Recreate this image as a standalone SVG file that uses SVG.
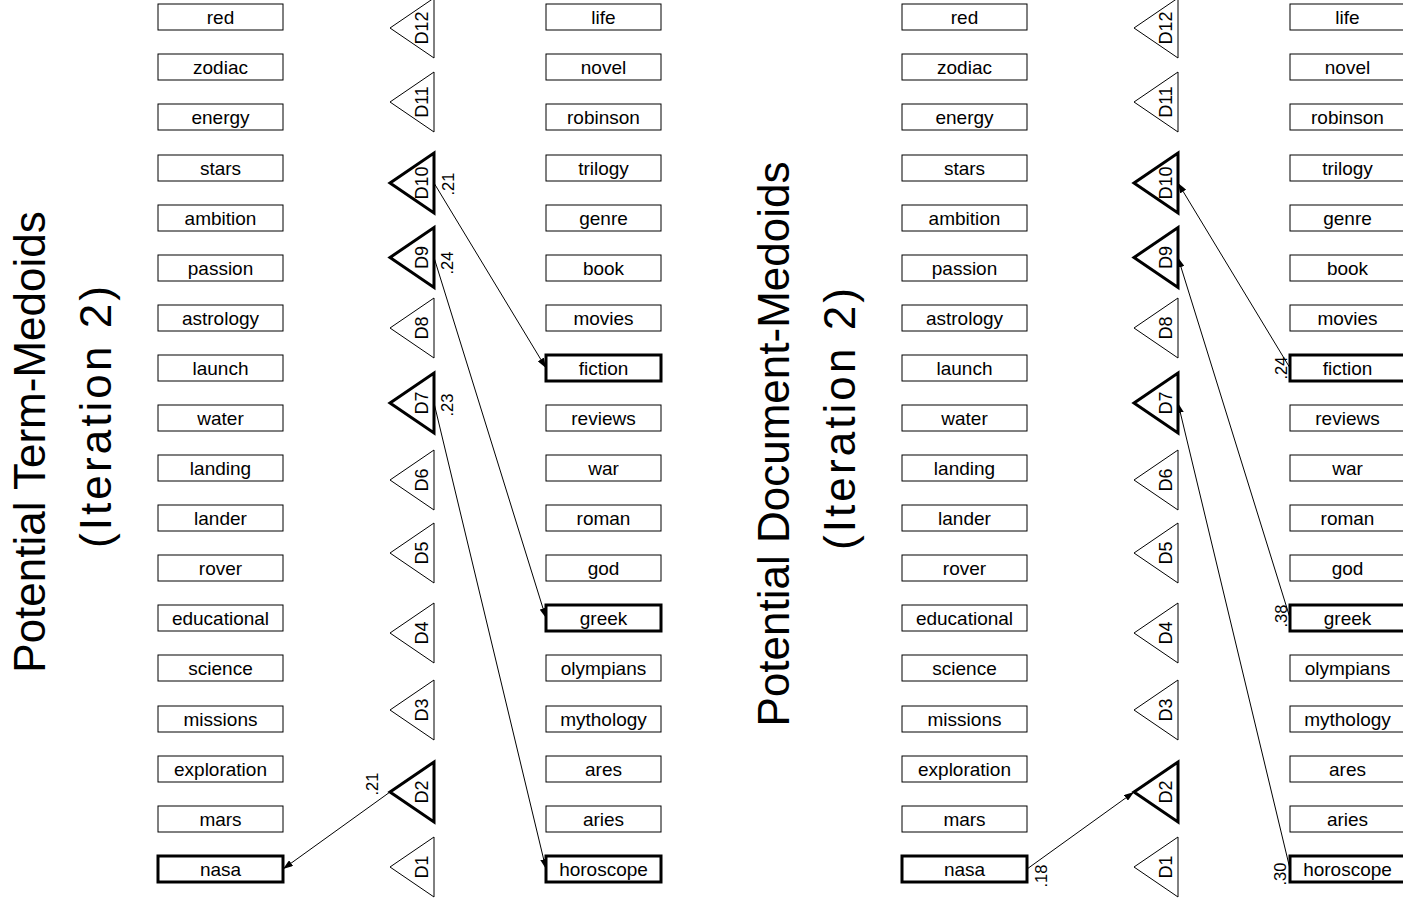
<svg xmlns="http://www.w3.org/2000/svg" width="1403" height="904" viewBox="0 0 1403 904">
<style>
text{font-family:"Liberation Sans",Arial,sans-serif;fill:#000}
.box{fill:#fff;stroke:#000;stroke-width:1}
.bold .box,.bold .tri{stroke-width:3}
.tri{fill:#fff;stroke:#000;stroke-width:1}
.lbl{font-size:19px;text-anchor:middle}
.tl{font-size:18px;text-anchor:middle}
.title{font-size:44px;text-anchor:middle}
.el{font-size:16.5px;text-anchor:middle}
.conn line{stroke:#000;stroke-width:1;marker-end:url(#ah)}
</style>
<defs>
<marker id="ah" markerUnits="userSpaceOnUse" markerWidth="10" markerHeight="7" refX="10" refY="3.5" orient="auto">
<path d="M0,0 L10,3.5 L0,7 z" fill="#000"/>
</marker>
<g id="tshape"><polygon class="tri" points="0,-30 0,30 -44,0"/></g>
</defs>
<rect width="1403" height="904" fill="#fff"/>

<!-- Titles -->
<g id="title-left">
<text class="title" transform="translate(45,442) rotate(-90)">Potential Term-Medoids</text>
<text class="title" transform="translate(111,417) rotate(-90)" textLength="262" lengthAdjust="spacing">(Iteration 2)</text>
</g>
<g id="title-right">
<text class="title" transform="translate(789,444) rotate(-90)">Potential Document-Medoids</text>
<text class="title" transform="translate(855,419) rotate(-90)" textLength="262" lengthAdjust="spacing">(Iteration 2)</text>
</g>

<!-- LEFT PANEL: term column -->
<g id="L-red"><rect class="box" x="158" y="4" width="125" height="26"/><text class="lbl" x="220.5" y="24">red</text></g>
<g id="L-zodiac"><rect class="box" x="158" y="54" width="125" height="26"/><text class="lbl" x="220.5" y="74">zodiac</text></g>
<g id="L-energy"><rect class="box" x="158" y="104" width="125" height="26"/><text class="lbl" x="220.5" y="124">energy</text></g>
<g id="L-stars"><rect class="box" x="158" y="155" width="125" height="26"/><text class="lbl" x="220.5" y="175">stars</text></g>
<g id="L-ambition"><rect class="box" x="158" y="205" width="125" height="26"/><text class="lbl" x="220.5" y="225">ambition</text></g>
<g id="L-passion"><rect class="box" x="158" y="255" width="125" height="26"/><text class="lbl" x="220.5" y="275">passion</text></g>
<g id="L-astrology"><rect class="box" x="158" y="305" width="125" height="26"/><text class="lbl" x="220.5" y="325">astrology</text></g>
<g id="L-launch"><rect class="box" x="158" y="355" width="125" height="26"/><text class="lbl" x="220.5" y="375">launch</text></g>
<g id="L-water"><rect class="box" x="158" y="405" width="125" height="26"/><text class="lbl" x="220.5" y="425">water</text></g>
<g id="L-landing"><rect class="box" x="158" y="455" width="125" height="26"/><text class="lbl" x="220.5" y="475">landing</text></g>
<g id="L-lander"><rect class="box" x="158" y="505" width="125" height="26"/><text class="lbl" x="220.5" y="525">lander</text></g>
<g id="L-rover"><rect class="box" x="158" y="555" width="125" height="26"/><text class="lbl" x="220.5" y="575">rover</text></g>
<g id="L-educational"><rect class="box" x="158" y="605" width="125" height="26"/><text class="lbl" x="220.5" y="625">educational</text></g>
<g id="L-science"><rect class="box" x="158" y="655" width="125" height="26"/><text class="lbl" x="220.5" y="675">science</text></g>
<g id="L-missions"><rect class="box" x="158" y="706" width="125" height="26"/><text class="lbl" x="220.5" y="726">missions</text></g>
<g id="L-exploration"><rect class="box" x="158" y="756" width="125" height="26"/><text class="lbl" x="220.5" y="776">exploration</text></g>
<g id="L-mars"><rect class="box" x="158" y="806" width="125" height="26"/><text class="lbl" x="220.5" y="826">mars</text></g>
<g id="L-nasa" class="bold"><rect class="box" x="158" y="856" width="125" height="26"/><text class="lbl" x="220.5" y="876">nasa</text></g>

<!-- LEFT PANEL: documents -->
<g id="L-D12"><use href="#tshape" x="434" y="28"/><text class="tl" transform="translate(428,28) rotate(-90)">D12</text></g>
<g id="L-D11"><use href="#tshape" x="434" y="102"/><text class="tl" transform="translate(428,102) rotate(-90)">D11</text></g>
<g id="L-D10" class="bold"><polygon class="tri" points="434,153 434,213 390,183"/><text class="tl" transform="translate(428,183) rotate(-90)">D10</text></g>
<g id="L-D9" class="bold"><polygon class="tri" points="434,227.5 434,287.5 390,257.5"/><text class="tl" transform="translate(428,257.5) rotate(-90)">D9</text></g>
<g id="L-D8"><use href="#tshape" x="434" y="328"/><text class="tl" transform="translate(428,328) rotate(-90)">D8</text></g>
<g id="L-D7" class="bold"><polygon class="tri" points="434,373 434,433 390,403"/><text class="tl" transform="translate(428,403) rotate(-90)">D7</text></g>
<g id="L-D6"><use href="#tshape" x="434" y="480"/><text class="tl" transform="translate(428,480) rotate(-90)">D6</text></g>
<g id="L-D5"><use href="#tshape" x="434" y="553"/><text class="tl" transform="translate(428,553) rotate(-90)">D5</text></g>
<g id="L-D4"><use href="#tshape" x="434" y="633"/><text class="tl" transform="translate(428,633) rotate(-90)">D4</text></g>
<g id="L-D3"><use href="#tshape" x="434" y="710"/><text class="tl" transform="translate(428,710) rotate(-90)">D3</text></g>
<g id="L-D2" class="bold"><polygon class="tri" points="434,762 434,822 390,792"/><text class="tl" transform="translate(428,792) rotate(-90)">D2</text></g>
<g id="L-D1"><use href="#tshape" x="434" y="867"/><text class="tl" transform="translate(428,867) rotate(-90)">D1</text></g>

<!-- LEFT PANEL: right term column -->
<g id="L-life"><rect class="box" x="546" y="4" width="115" height="26"/><text class="lbl" x="603.5" y="24">life</text></g>
<g id="L-novel"><rect class="box" x="546" y="54" width="115" height="26"/><text class="lbl" x="603.5" y="74">novel</text></g>
<g id="L-robinson"><rect class="box" x="546" y="104" width="115" height="26"/><text class="lbl" x="603.5" y="124">robinson</text></g>
<g id="L-trilogy"><rect class="box" x="546" y="155" width="115" height="26"/><text class="lbl" x="603.5" y="175">trilogy</text></g>
<g id="L-genre"><rect class="box" x="546" y="205" width="115" height="26"/><text class="lbl" x="603.5" y="225">genre</text></g>
<g id="L-book"><rect class="box" x="546" y="255" width="115" height="26"/><text class="lbl" x="603.5" y="275">book</text></g>
<g id="L-movies"><rect class="box" x="546" y="305" width="115" height="26"/><text class="lbl" x="603.5" y="325">movies</text></g>
<g id="L-fiction" class="bold"><rect class="box" x="546" y="355" width="115" height="26"/><text class="lbl" x="603.5" y="375">fiction</text></g>
<g id="L-reviews"><rect class="box" x="546" y="405" width="115" height="26"/><text class="lbl" x="603.5" y="425">reviews</text></g>
<g id="L-war"><rect class="box" x="546" y="455" width="115" height="26"/><text class="lbl" x="603.5" y="475">war</text></g>
<g id="L-roman"><rect class="box" x="546" y="505" width="115" height="26"/><text class="lbl" x="603.5" y="525">roman</text></g>
<g id="L-god"><rect class="box" x="546" y="555" width="115" height="26"/><text class="lbl" x="603.5" y="575">god</text></g>
<g id="L-greek" class="bold"><rect class="box" x="546" y="605" width="115" height="26"/><text class="lbl" x="603.5" y="625">greek</text></g>
<g id="L-olympians"><rect class="box" x="546" y="655" width="115" height="26"/><text class="lbl" x="603.5" y="675">olympians</text></g>
<g id="L-mythology"><rect class="box" x="546" y="706" width="115" height="26"/><text class="lbl" x="603.5" y="726">mythology</text></g>
<g id="L-ares"><rect class="box" x="546" y="756" width="115" height="26"/><text class="lbl" x="603.5" y="776">ares</text></g>
<g id="L-aries"><rect class="box" x="546" y="806" width="115" height="26"/><text class="lbl" x="603.5" y="826">aries</text></g>
<g id="L-horoscope" class="bold"><rect class="box" x="546" y="856" width="115" height="26"/><text class="lbl" x="603.5" y="876">horoscope</text></g>

<!-- RIGHT PANEL: term column -->
<g id="R-red"><rect class="box" x="902" y="4" width="125" height="26"/><text class="lbl" x="964.5" y="24">red</text></g>
<g id="R-zodiac"><rect class="box" x="902" y="54" width="125" height="26"/><text class="lbl" x="964.5" y="74">zodiac</text></g>
<g id="R-energy"><rect class="box" x="902" y="104" width="125" height="26"/><text class="lbl" x="964.5" y="124">energy</text></g>
<g id="R-stars"><rect class="box" x="902" y="155" width="125" height="26"/><text class="lbl" x="964.5" y="175">stars</text></g>
<g id="R-ambition"><rect class="box" x="902" y="205" width="125" height="26"/><text class="lbl" x="964.5" y="225">ambition</text></g>
<g id="R-passion"><rect class="box" x="902" y="255" width="125" height="26"/><text class="lbl" x="964.5" y="275">passion</text></g>
<g id="R-astrology"><rect class="box" x="902" y="305" width="125" height="26"/><text class="lbl" x="964.5" y="325">astrology</text></g>
<g id="R-launch"><rect class="box" x="902" y="355" width="125" height="26"/><text class="lbl" x="964.5" y="375">launch</text></g>
<g id="R-water"><rect class="box" x="902" y="405" width="125" height="26"/><text class="lbl" x="964.5" y="425">water</text></g>
<g id="R-landing"><rect class="box" x="902" y="455" width="125" height="26"/><text class="lbl" x="964.5" y="475">landing</text></g>
<g id="R-lander"><rect class="box" x="902" y="505" width="125" height="26"/><text class="lbl" x="964.5" y="525">lander</text></g>
<g id="R-rover"><rect class="box" x="902" y="555" width="125" height="26"/><text class="lbl" x="964.5" y="575">rover</text></g>
<g id="R-educational"><rect class="box" x="902" y="605" width="125" height="26"/><text class="lbl" x="964.5" y="625">educational</text></g>
<g id="R-science"><rect class="box" x="902" y="655" width="125" height="26"/><text class="lbl" x="964.5" y="675">science</text></g>
<g id="R-missions"><rect class="box" x="902" y="706" width="125" height="26"/><text class="lbl" x="964.5" y="726">missions</text></g>
<g id="R-exploration"><rect class="box" x="902" y="756" width="125" height="26"/><text class="lbl" x="964.5" y="776">exploration</text></g>
<g id="R-mars"><rect class="box" x="902" y="806" width="125" height="26"/><text class="lbl" x="964.5" y="826">mars</text></g>
<g id="R-nasa" class="bold"><rect class="box" x="902" y="856" width="125" height="26"/><text class="lbl" x="964.5" y="876">nasa</text></g>

<!-- RIGHT PANEL: documents -->
<g id="R-D12"><use href="#tshape" x="1178" y="28"/><text class="tl" transform="translate(1172,28) rotate(-90)">D12</text></g>
<g id="R-D11"><use href="#tshape" x="1178" y="102"/><text class="tl" transform="translate(1172,102) rotate(-90)">D11</text></g>
<g id="R-D10" class="bold"><polygon class="tri" points="1178,153 1178,213 1134,183"/><text class="tl" transform="translate(1172,183) rotate(-90)">D10</text></g>
<g id="R-D9" class="bold"><polygon class="tri" points="1178,227.5 1178,287.5 1134,257.5"/><text class="tl" transform="translate(1172,257.5) rotate(-90)">D9</text></g>
<g id="R-D8"><use href="#tshape" x="1178" y="328"/><text class="tl" transform="translate(1172,328) rotate(-90)">D8</text></g>
<g id="R-D7" class="bold"><polygon class="tri" points="1178,373 1178,433 1134,403"/><text class="tl" transform="translate(1172,403) rotate(-90)">D7</text></g>
<g id="R-D6"><use href="#tshape" x="1178" y="480"/><text class="tl" transform="translate(1172,480) rotate(-90)">D6</text></g>
<g id="R-D5"><use href="#tshape" x="1178" y="553"/><text class="tl" transform="translate(1172,553) rotate(-90)">D5</text></g>
<g id="R-D4"><use href="#tshape" x="1178" y="633"/><text class="tl" transform="translate(1172,633) rotate(-90)">D4</text></g>
<g id="R-D3"><use href="#tshape" x="1178" y="710"/><text class="tl" transform="translate(1172,710) rotate(-90)">D3</text></g>
<g id="R-D2" class="bold"><polygon class="tri" points="1178,762 1178,822 1134,792"/><text class="tl" transform="translate(1172,792) rotate(-90)">D2</text></g>
<g id="R-D1"><use href="#tshape" x="1178" y="867"/><text class="tl" transform="translate(1172,867) rotate(-90)">D1</text></g>

<!-- RIGHT PANEL: right term column -->
<g id="R-life"><rect class="box" x="1290" y="4" width="115" height="26"/><text class="lbl" x="1347.5" y="24">life</text></g>
<g id="R-novel"><rect class="box" x="1290" y="54" width="115" height="26"/><text class="lbl" x="1347.5" y="74">novel</text></g>
<g id="R-robinson"><rect class="box" x="1290" y="104" width="115" height="26"/><text class="lbl" x="1347.5" y="124">robinson</text></g>
<g id="R-trilogy"><rect class="box" x="1290" y="155" width="115" height="26"/><text class="lbl" x="1347.5" y="175">trilogy</text></g>
<g id="R-genre"><rect class="box" x="1290" y="205" width="115" height="26"/><text class="lbl" x="1347.5" y="225">genre</text></g>
<g id="R-book"><rect class="box" x="1290" y="255" width="115" height="26"/><text class="lbl" x="1347.5" y="275">book</text></g>
<g id="R-movies"><rect class="box" x="1290" y="305" width="115" height="26"/><text class="lbl" x="1347.5" y="325">movies</text></g>
<g id="R-fiction" class="bold"><rect class="box" x="1290" y="355" width="115" height="26"/><text class="lbl" x="1347.5" y="375">fiction</text></g>
<g id="R-reviews"><rect class="box" x="1290" y="405" width="115" height="26"/><text class="lbl" x="1347.5" y="425">reviews</text></g>
<g id="R-war"><rect class="box" x="1290" y="455" width="115" height="26"/><text class="lbl" x="1347.5" y="475">war</text></g>
<g id="R-roman"><rect class="box" x="1290" y="505" width="115" height="26"/><text class="lbl" x="1347.5" y="525">roman</text></g>
<g id="R-god"><rect class="box" x="1290" y="555" width="115" height="26"/><text class="lbl" x="1347.5" y="575">god</text></g>
<g id="R-greek" class="bold"><rect class="box" x="1290" y="605" width="115" height="26"/><text class="lbl" x="1347.5" y="625">greek</text></g>
<g id="R-olympians"><rect class="box" x="1290" y="655" width="115" height="26"/><text class="lbl" x="1347.5" y="675">olympians</text></g>
<g id="R-mythology"><rect class="box" x="1290" y="706" width="115" height="26"/><text class="lbl" x="1347.5" y="726">mythology</text></g>
<g id="R-ares"><rect class="box" x="1290" y="756" width="115" height="26"/><text class="lbl" x="1347.5" y="776">ares</text></g>
<g id="R-aries"><rect class="box" x="1290" y="806" width="115" height="26"/><text class="lbl" x="1347.5" y="826">aries</text></g>
<g id="R-horoscope" class="bold"><rect class="box" x="1290" y="856" width="115" height="26"/><text class="lbl" x="1347.5" y="876">horoscope</text></g>

<!-- Connectors -->
<g id="connectors" class="conn">
<line x1="434" y1="183" x2="546" y2="368"/>
<line x1="434" y1="257.5" x2="546" y2="618"/>
<line x1="434" y1="403" x2="546" y2="869"/>
<line x1="390" y1="792" x2="283" y2="869"/>
<line x1="1290" y1="368" x2="1178" y2="183"/>
<line x1="1290" y1="618" x2="1178" y2="257.5"/>
<line x1="1290" y1="869" x2="1178" y2="403"/>
<line x1="1027" y1="869" x2="1134" y2="792"/>
</g>
<g id="edge-labels">
<text class="el" transform="translate(454,184) rotate(-90)">.21</text>
<text class="el" transform="translate(453,263) rotate(-90)">.24</text>
<text class="el" transform="translate(453,405) rotate(-90)">.23</text>
<text class="el" transform="translate(378,784) rotate(-90)">.21</text>
<text class="el" transform="translate(1287,368) rotate(-90)">.24</text>
<text class="el" transform="translate(1287,616) rotate(-90)">.38</text>
<text class="el" transform="translate(1286,874) rotate(-90)">.30</text>
<text class="el" transform="translate(1047,876) rotate(-90)">.18</text>
</g>
</svg>
